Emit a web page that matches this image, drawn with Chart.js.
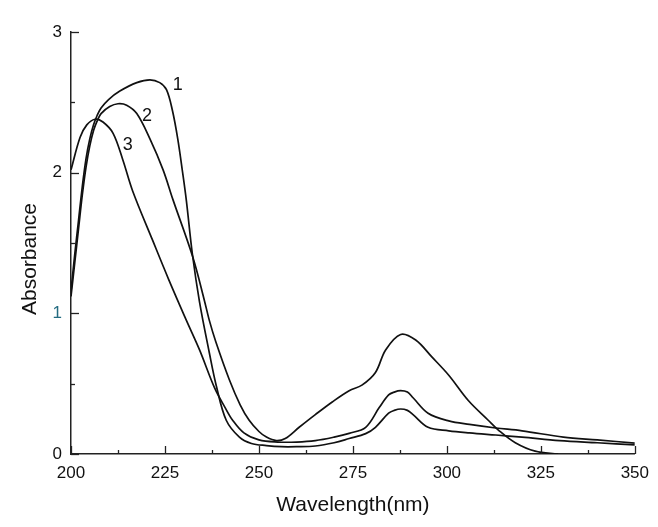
<!DOCTYPE html>
<html><head><meta charset="utf-8">
<script src="https://cdn.jsdelivr.net/npm/chart.js@4/dist/chart.umd.min.js"></script>
<style>html,body{margin:0;padding:0;background:#fff;}#wrap{width:658px;height:527px;}</style>
</head><body><div id="wrap"><canvas id="c" width="658" height="527"></canvas></div>
<script>
// ---- data ----
const wl1 = [200,201,202,203,204,205,206,207,208,210,213,217.5,221,223.6,225.4,227,228.4,229.7,230.7,232.3,234.2,236.8,238.7,241.3,244.8,248,252,256,260,265,270,274,278.4,281,284.5,286,287.7,289.5,291,295,300.5,306,313,320,330,340,350];
const abs1 = [1.16,1.42,1.66,1.9,2.1,2.24,2.34,2.41,2.46,2.52,2.58,2.64,2.66,2.64,2.59,2.44,2.24,2.0,1.8,1.42,1.08,0.72,0.48,0.24,0.12,0.075,0.06,0.052,0.052,0.057,0.08,0.11,0.145,0.19,0.29,0.31,0.32,0.31,0.28,0.19,0.165,0.15,0.135,0.12,0.095,0.08,0.065];

const wl2 = [200,201,202,203,204,205,206,207,208,210.3,212.5,214.8,217.5,221,224.5,227.1,232.4,235.5,236.8,238.5,242.1,245,247.4,250,252,254.6,257,260.7,265,269.5,274,277.4,281,283.7,287.7,291.7,296,300.5,305.7,311,313.7,318.2,323.5,329.6];
const abs2 = [1.12,1.36,1.6,1.84,2.04,2.19,2.3,2.37,2.42,2.47,2.49,2.48,2.42,2.24,2.02,1.81,1.40,1.09,0.95,0.80,0.53,0.35,0.24,0.16,0.12,0.095,0.11,0.19,0.28,0.37,0.45,0.49,0.58,0.74,0.85,0.81,0.69,0.56,0.38,0.24,0.17,0.08,0.02,0.0];

const wl3 = [200,202.4,204.2,206.4,208.5,211.2,213.8,216.4,221.7,226,230.7,234.2,238.2,241,243,246,250,255,260,265,270,274,278.4,282,284.5,286,287.7,289.5,291,295,300.5,306,313,320,331,340,350];
const abs3 = [2.02,2.25,2.34,2.38,2.36,2.28,2.09,1.87,1.52,1.24,0.95,0.74,0.47,0.33,0.24,0.15,0.10,0.085,0.085,0.095,0.12,0.147,0.19,0.33,0.42,0.44,0.45,0.44,0.40,0.29,0.235,0.21,0.185,0.165,0.12,0.10,0.078];

const xTicks = [200,225,250,275,300,325,350];
const yTicks = [0,1,2,3];
const curveNames = ['1','2','3'];
const curveLabelAt = [[228.4,2.62],[220.2,2.40],[215.1,2.20]]; // data coords of "1","2","3"
const xTitle = 'Wavelength(nm)';
const yTitle = 'Absorbance';

const FONT = '"Liberation Sans", Arial, sans-serif';
const INK = '#111';

function pts(xs, ys){ return xs.map((x,i)=>({x:x,y:ys[i]})); }
function ds(xs, ys, name){
  return {label:name, data:pts(xs,ys), showLine:true, pointRadius:0, borderColor:INK,
    borderWidth:1.7, tension:0.35, fill:false};
}

const decor = {
  id:'decor',
  afterDraw(chart){
    const ctx = chart.ctx, xs = chart.scales.x, ys = chart.scales.y;
    const ca = chart.chartArea;
    ctx.save();
    ctx.strokeStyle = '#222'; ctx.lineWidth = 1.3;
    for (let v = 200; v <= 350.01; v += 12.5) {
      const major = Math.abs((v - 200) % 25) < 1e-6;
      const px = Math.round(xs.getPixelForValue(v)) + 0.5;
      ctx.beginPath(); ctx.moveTo(px, ca.bottom); ctx.lineTo(px, ca.bottom - (major ? 8 : 4)); ctx.stroke();
    }
    for (let v = 0; v <= 3.001; v += 0.5) {
      const major = Math.abs(v - Math.round(v)) < 1e-6;
      const py = Math.round(ys.getPixelForValue(v)) + 0.5;
      ctx.beginPath(); ctx.moveTo(ca.left, py); ctx.lineTo(ca.left + (major ? 8 : 4), py); ctx.stroke();
    }
    ctx.fillStyle = INK; ctx.font = '18px ' + FONT; ctx.textAlign = 'center'; ctx.textBaseline = 'middle';
    curveNames.forEach((n,i)=>{
      ctx.fillText(n, xs.getPixelForValue(curveLabelAt[i][0]), ys.getPixelForValue(curveLabelAt[i][1]));
    });
    ctx.save();
    ctx.translate(30, 259); ctx.rotate(-Math.PI/2);
    ctx.font = '21px ' + FONT; ctx.fillText(yTitle, 0, 0);
    ctx.restore();
    ctx.restore();
  }
};

new Chart(document.getElementById('c'), {
  type:'scatter',
  data:{ datasets:[ ds(wl1,abs1,'1'), ds(wl2,abs2,'2'), ds(wl3,abs3,'3') ] },
  options:{
    responsive:false, animation:false, devicePixelRatio:1,
    layout:{ padding:{ left:20, right:21, top:32, bottom:9 } },
    plugins:{ legend:{display:false}, tooltip:{enabled:false} },
    scales:{
      x:{ type:'linear', min:200, max:350,
        afterBuildTicks(s){ s.ticks = xTicks.map(v=>({value:v})); },
        afterFit(s){ s.height = 64; },
        grid:{ display:true, drawOnChartArea:false, drawTicks:false },
        border:{ display:true, color:'#222', width:1.5 },
        ticks:{ padding:9, color:INK, font:{ size:17, family:FONT }, maxRotation:0 },
        title:{ display:true, text:xTitle, color:INK, padding:0, font:{ size:21, family:FONT } }
      },
      y:{ type:'linear', min:0, max:3,
        afterBuildTicks(s){ s.ticks = yTicks.map(v=>({value:v})); },
        afterFit(s){ s.width = 51; },
        grid:{ display:true, drawOnChartArea:false, drawTicks:false },
        border:{ display:true, color:'#222', width:1.5 },
        ticks:{ padding:9, font:{ size:17, family:FONT },
          color:(c)=> (c.tick && c.tick.value === 1) ? '#236b80' : INK },
        title:{ display:false }
      }
    }
  },
  plugins:[decor]
});
</script></body></html>
